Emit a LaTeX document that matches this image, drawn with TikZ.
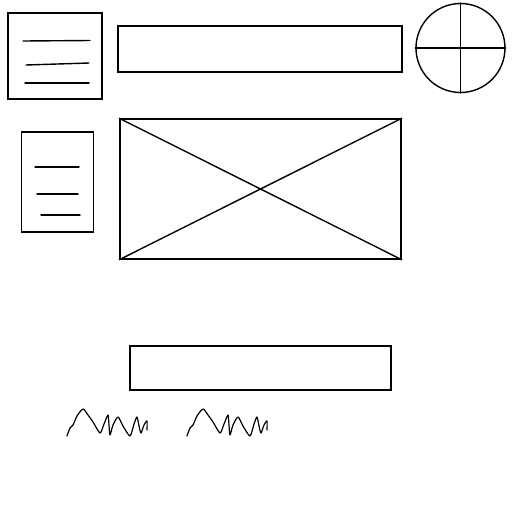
\documentclass[tikz,border=0pt]{standalone}
\begin{document}
\begin{tikzpicture}[x=1pt,y=-1pt,
  ln/.style={line width=1.4pt,black,line cap=round,line join=round},
  box/.style={draw,line width=1.4pt,inner sep=0pt}]
\useasboundingbox (0,0) rectangle (512,512);
% top-left box
\node[box,minimum width=94pt,minimum height=86pt] (tl) at (55,56) {};
\draw[ln] (23,41) -- (90,40.5);
\draw[ln] (26,65) -- (89,63);
\draw[ln] (25,83) -- (89,83);
% top rect
\node[box,minimum width=284pt,minimum height=46pt] (tr) at (260,49) {};
% circle
\node[draw,circle,line width=1.4pt,minimum size=89pt,inner sep=0pt] (c) at (460.5,48) {};
\draw[ln] (c.north) -- (c.south);
\draw[ln] (c.west) -- (c.east);
% middle-left box
\node[box,minimum width=72pt,minimum height=100pt] (ml) at (57.5,182) {};
\draw[ln] (35,167) -- (79,167);
\draw[ln] (37,194) -- (78,194);
\draw[ln] (41,215) -- (80,215);
% big rect
\node[box,minimum width=281pt,minimum height=140pt] (big) at (260.5,189) {};
\draw[ln] (big.north west) -- (big.south east);
\draw[ln] (big.south west) -- (big.north east);
% bottom rect
\node[box,minimum width=261pt,minimum height=44pt] (bot) at (260.5,368) {};
% scribbles
\foreach \dx in {0,120}{
\draw[ln,line width=1.2pt,xshift=\dx pt] plot[smooth,tension=0.4] coordinates {
(67,436) (70,428) (73,425) (77,416) (83,409) (88,415) (93,422) (100,433) (104,424) (108,415) (109,425) (110,435) (113,425) (118,417) (123,426) (130,436) (134,424) (137,417) (139,426) (141,433) (144,425) (147,421) (147,430)};
}
\end{tikzpicture}
\end{document}
